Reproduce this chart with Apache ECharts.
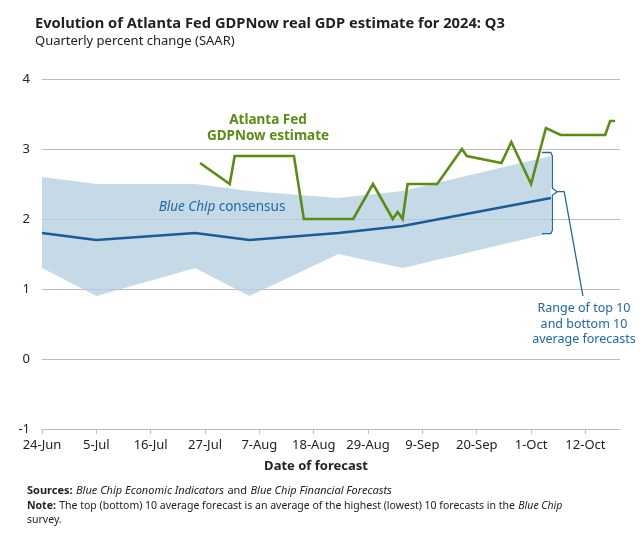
<!DOCTYPE html>
<html>
<head>
<meta charset="utf-8">
<script src="https://cdn.jsdelivr.net/npm/echarts@6/dist/echarts.min.js"></script>
<style>
html,body{margin:0;padding:0;background:#fff;}
#chart{width:640px;height:537px;}
</style>
</head>
<body>
<div id="chart"></div>
<script>
// ---- data ----
var tickLabels = ['24-Jun','5-Jul','16-Jul','27-Jul','7-Aug','18-Aug','29-Aug','9-Sep','20-Sep','1-Oct','12-Oct'];
var blueChipDates = ['06-24','07-05','07-25','08-05','08-23','09-05','10-05'];
var blueChipTop10 = [2.6, 2.5, 2.5, 2.4, 2.3, 2.4, 2.9];
var blueChipConsensus = [1.8, 1.7, 1.8, 1.7, 1.8, 1.9, 2.3];
var blueChipBottom10 = [1.3, 0.9, 1.3, 0.9, 1.5, 1.3, 1.8];
var gdpNowDates = ['07-26','08-01','08-02','08-14','08-16','08-26','08-30','09-03','09-04','09-05','09-06','09-12','09-17','09-18','09-25','09-27','10-01','10-04','10-07','10-16','10-17','10-18'];
var gdpNowValues = [2.8, 2.5, 2.9, 2.9, 2.0, 2.0, 2.5, 2.0, 2.1, 2.0, 2.5, 2.5, 3.0, 2.9, 2.8, 3.1, 2.5, 3.3, 3.2, 3.2, 3.4, 3.4];

// ---- helpers ----
var START = Date.UTC(2024, 5, 24);
function dayOf(s) {
  var p = s.split('-');
  return Math.round((Date.UTC(2024, +p[0] - 1, +p[1]) - START) / 86400000);
}
function pairs(dates, vals) { return dates.map(function (d, i) { return [dayOf(d), vals[i]]; }); }
var tickValues = tickLabels.map(function (_, i) { return i * 11; });

// whole band as one polygon: top edge forward, bottom edge backward
var bandPoly = [];
blueChipDates.forEach(function (d, i) { bandPoly.push([dayOf(d), blueChipTop10[i]]); });
for (var j = blueChipDates.length - 1; j >= 0; j--) { bandPoly.push([dayOf(blueChipDates[j]), blueChipBottom10[j]]); }

var FONT = '"Noto Sans", "Open Sans", sans-serif';
var GREEN = '#5b8d14';
var BLUE = '#1b5c98';
var ANN = '#2068a6';

var chart = echarts.init(document.getElementById('chart'), null, {renderer: 'canvas'});
chart.setOption({
  animation: false,
  backgroundColor: '#ffffff',
  textStyle: {fontFamily: FONT},
  grid: {left: 42, right: 20, top: 79, bottom: 108, containLabel: false},
  xAxis: {
    type: 'value', min: 0, max: 117, interval: 11,
    axisLine: {show: true, onZero: false, lineStyle: {color: '#bdbdbd', width: 1}},
    axisTick: {show: true, length: 5, lineStyle: {color: '#bdbdbd'}, customValues: tickValues},
    axisLabel: {
      color: '#222', fontSize: 13, margin: 10, fontFamily: FONT,
      customValues: tickValues,
      formatter: function (v) { var k = Math.round(v / 11); return tickLabels[k] || ''; }
    },
    splitLine: {show: false}
  },
  yAxis: {
    type: 'value', min: -1, max: 4, interval: 1,
    axisLine: {show: false}, axisTick: {show: false},
    axisLabel: {color: '#222', fontSize: 13, margin: 12, fontFamily: FONT},
    splitLine: {show: true, lineStyle: {color: '#bdbdbd', width: 1}}
  },
  series: [
    {type: 'custom', data: [0], silent: true, z: 1,
      renderItem: function (params, api) {
        if (params.dataIndex !== 0) return null;
        var pts = bandPoly.map(function (p) { return api.coord(p); });
        return {type: 'polygon', shape: {points: pts},
          style: {fill: 'rgba(179,205,224,0.76)'}};
      }},
    {type: 'line', data: pairs(blueChipDates, blueChipConsensus), symbol: 'none',
      lineStyle: {color: BLUE, width: 2.5}, z: 3},
    {type: 'line', data: pairs(gdpNowDates, gdpNowValues), symbol: 'none',
      lineStyle: {color: GREEN, width: 2.6, join: 'miter'}, z: 4},
    {type: 'line', symbol: 'none', silent: true, z: 5,
      lineStyle: {color: ANN, width: 1.3},
      data: [[101.2, 2.95], [103.0, 2.95], [103.3, 2.9], [103.3, 2.44], [104.3, 2.39], [103.3, 2.34], [103.3, 1.84], [103.0, 1.79], [101.2, 1.79]]},
    {type: 'line', symbol: 'none', silent: true, z: 5,
      lineStyle: {color: ANN, width: 1.3},
      data: [[104.3, 2.39], [105.7, 2.39], [109.5, 0.9]]}
  ],
  graphic: [
    {type: 'text', z: 100, left: 35, top: 16, style: {text: 'Evolution of Atlanta Fed GDPNow real GDP estimate for 2024: Q3', font: 'bold 14.7px ' + FONT, fill: '#222'}},
    {type: 'text', z: 100, left: 35, top: 35, style: {text: 'Quarterly percent change (SAAR)', font: '13px ' + FONT, fill: '#222'}},
    {type: 'text', z: 100, x: 268, y: 120, style: {text: 'Atlanta Fed', font: 'bold 13.5px ' + FONT, fill: GREEN, align: 'center', verticalAlign: 'middle'}},
    {type: 'text', z: 100, x: 268, y: 136, style: {text: 'GDPNow estimate', font: 'bold 13.5px ' + FONT, fill: GREEN, align: 'center', verticalAlign: 'middle'}},
    {type: 'text', z: 100, x: 222, y: 207, style: {
      text: '{i|Blue Chip} {n|consensus}', align: 'center', verticalAlign: 'middle',
      rich: {i: {font: 'italic 13.5px ' + FONT, fill: ANN}, n: {font: '13.5px ' + FONT, fill: ANN}}}},
    {type: 'text', z: 100, x: 584, y: 308, style: {text: 'Range of top 10', font: '12.5px ' + FONT, fill: ANN, align: 'center', verticalAlign: 'middle'}},
    {type: 'text', z: 100, x: 584, y: 324, style: {text: 'and bottom 10', font: '12.5px ' + FONT, fill: ANN, align: 'center', verticalAlign: 'middle'}},
    {type: 'text', z: 100, x: 584, y: 339, style: {text: 'average forecasts', font: '12.5px ' + FONT, fill: ANN, align: 'center', verticalAlign: 'middle'}},
    {type: 'text', z: 100, x: 316, y: 466, style: {text: 'Date of forecast', font: 'bold 13px ' + FONT, fill: '#222', align: 'center', verticalAlign: 'middle'}},
    {type: 'text', z: 100, x: 27, y: 491, style: {
      text: '{b|Sources:} {i|Blue Chip Economic Indicators} {n|and} {i|Blue Chip Financial Forecasts}', verticalAlign: 'middle',
      rich: {b: {font: 'bold 11px ' + FONT, fill: '#222'}, i: {font: 'italic 11px ' + FONT, fill: '#222'}, n: {font: '11px ' + FONT, fill: '#222'}}}},
    {type: 'text', z: 100, x: 27, y: 506, style: {
      text: '{b|Note:} {n|The top (bottom) 10 average forecast is an average of the highest (lowest) 10 forecasts in the} {i|Blue Chip}', verticalAlign: 'middle',
      rich: {b: {font: 'bold 10.5px ' + FONT, fill: '#222'}, i: {font: 'italic 10.5px ' + FONT, fill: '#222'}, n: {font: '10.5px ' + FONT, fill: '#222'}}}},
    {type: 'text', z: 100, x: 27, y: 520, style: {text: 'survey.', font: '10.5px ' + FONT, fill: '#222', verticalAlign: 'middle'}}
  ]
});
</script>
</body>
</html>
